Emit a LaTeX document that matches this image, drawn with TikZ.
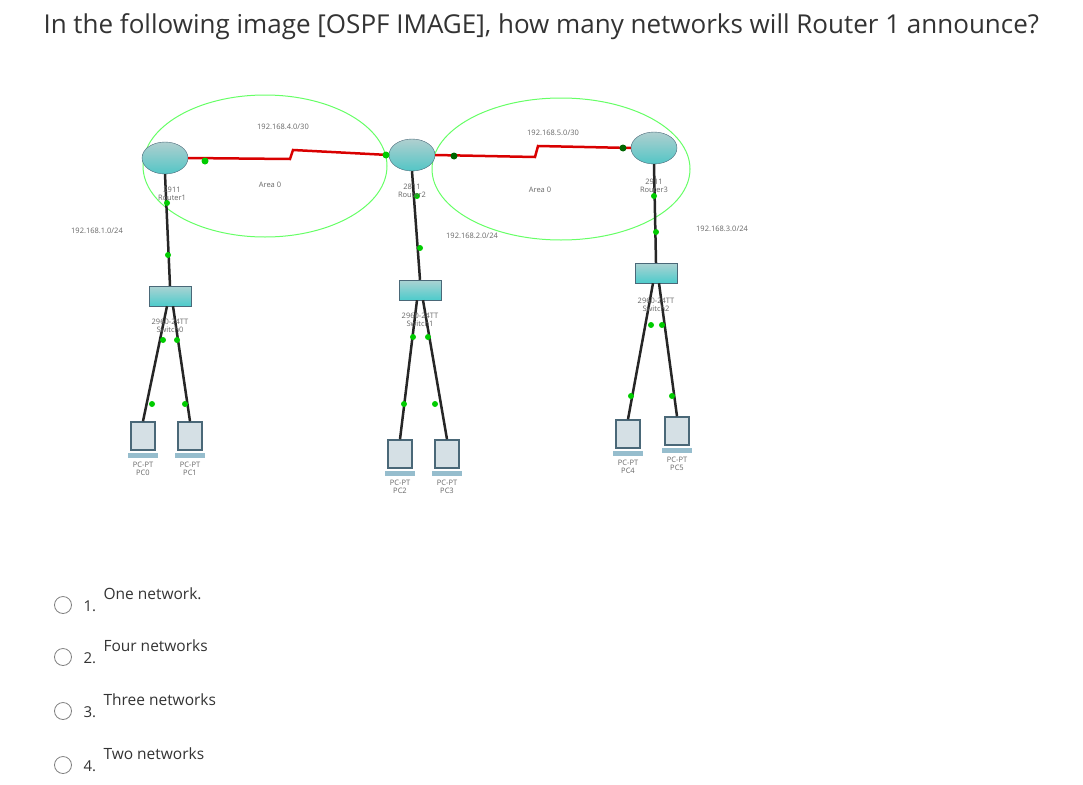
\documentclass[tikz,border=0pt]{standalone}
\usepackage{fontspec}
\setmainfont{Open Sans}
\usetikzlibrary{shapes.geometric}
\begin{document}
\begin{tikzpicture}[x=1pt,y=-1pt,
 lbl/.style={font=\fontsize{7.5}{8.5}\selectfont,text=gray!80!black,inner sep=1pt,align=center},
 router/.style={draw=cyan!40!black,top color=cyan!25!gray!50,bottom color=cyan!50!gray!90,ellipse,minimum width=46pt,minimum height=32pt,inner sep=0pt},
 switch/.style={draw=cyan!40!black,top color=cyan!30!gray!50,bottom color=cyan!55!gray!90,minimum width=42pt,minimum height=20pt,inner sep=0pt},
 pc/.style={draw=cyan!40!black,line width=1.5pt,fill=cyan!25!gray!30,minimum width=24pt,minimum height=28pt,inner sep=0pt},
 dot/.style={circle,fill=green!80!black,inner sep=0pt,minimum size=7pt},
 cable/.style={line width=2.5pt,black!85},
 serial/.style={line width=2.5pt,red!85!black},
 area/.style={draw=green!60!white,line width=1pt},
 opt/.style={circle,draw=gray,minimum size=17pt,inner sep=0pt,line width=0.8pt}]
\useasboundingbox (0,0) rectangle (1083,784);
\node[anchor=west,font=\fontsize{26}{30}\selectfont,text=black!80] (title) at (40,27) {In the following image [OSPF IMAGE], how many networks will Router 1 announce?};
\draw[area] (265,166) ellipse [x radius=122,y radius=71];
\draw[area] (561,169) ellipse [x radius=129,y radius=71];
% devices
\node[router] (r1) at (165,158) {};
\node[router] (r2) at (412,155) {};
\node[router] (r3) at (654,148) {};
\node[switch] (s0) at (170,296) {};
\node[switch] (s1) at (420,290) {};
\node[switch] (s2) at (656,273) {};
\foreach \n/\x/\y in {p0/143/436,p1/190/436,p2/400/454,p3/447/454,p4/628/434,p5/677/431}{
 \node[pc] (\n) at (\x,\y) {};
 \fill[cyan!40!gray!70] ([xshift=-15pt,yshift=-2pt]\n.south) rectangle ([xshift=15pt,yshift=-7pt]\n.south);}
% serial links
\draw[serial] (r1.east) -- (290,159) -- (293,150) -- (r2.west);
\draw[serial] (r2.east) -- (535,157) -- (538,146) -- (r3.west);
\node[dot] at (205,161) {};\node[dot] at (386,155) {};
\node[dot,fill=green!40!black] at (454,156) {};\node[dot,fill=green!40!black] at (623,148) {};
% cables
\draw[cable] (r1.south) -- (s0.north);
\draw[cable] (r2.south) -- (s1.north);
\draw[cable] (r3.south) -- (s2.north);
\foreach \s/\a/\b in {s0/p0/p1,s1/p2/p3,s2/p4/p5}{
 \draw[cable] (\s.south) ++(-3,0) -- (\a.north);
 \draw[cable] (\s.south) ++(3,0) -- (\b.north);}
\foreach \x/\y in {167/203,168/255,417/196,420/248,654/196,656/232,152/404,185/404,404/404,435/404,631/396,672/396,163/340,177/340,413/337,428/337,651/325,662/325}
 \node[dot,minimum size=6pt] at (\x,\y) {};
% labels
\node[lbl] at (172,194) {2911\\Router1};
\node[lbl] at (412,191) {2811\\Router2};
\node[lbl] at (654,186) {2911\\Router3};
\node[lbl] at (170,326) {2960-24TT\\Switch0};
\node[lbl] at (420,320) {2960-24TT\\Switch1};
\node[lbl] at (656,305) {2960-24TT\\Switch2};
\node[lbl] at (283,127) {192.168.4.0/30};
\node[lbl] at (270,185) {Area 0};
\node[lbl] at (553,133) {192.168.5.0/30};
\node[lbl] at (540,190) {Area 0};
\node[lbl] at (97,231) {192.168.1.0/24};
\node[lbl] at (472,236) {192.168.2.0/24};
\node[lbl] at (722,229) {192.168.3.0/24};
\foreach \n/\t in {p0/PC0,p1/PC1,p2/PC2,p3/PC3,p4/PC4,p5/PC5}
 \node[lbl,anchor=north] at ([yshift=-10pt]\n.south) {PC-PT\\\t};
% options
\foreach \i/\y/\t in {1/605/One network.,2/657/Four networks,3/711/Three networks,4/765/Two networks}{
 \node[opt] (o\i) at (63,\y) {};
 \node[anchor=west,font=\fontsize{15}{17}\selectfont,text=black!80] (n\i) at (80,\y+1) {\i.};
 \node[anchor=west,font=\fontsize{15.5}{18}\selectfont,text=black!80] (t\i) at (100,\y-11) {\t};}
\end{tikzpicture}
\end{document}
